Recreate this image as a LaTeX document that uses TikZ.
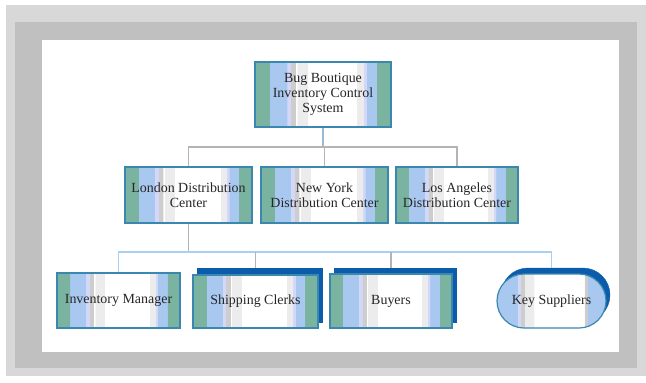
\documentclass[tikz,border=0pt]{standalone}
\usepackage{fontspec}
\setmainfont{Liberation Serif}
\usetikzlibrary{shapes.misc}

\definecolor{bandlight}{RGB}{216,216,216}
\definecolor{banddark}{RGB}{192,192,192}
\definecolor{stripeteal}{RGB}{122,180,160}
\definecolor{stripeblue}{RGB}{168,200,240}
\definecolor{stripelav}{RGB}{212,216,248}
\definecolor{stripegray}{RGB}{205,205,205}
\definecolor{stripepale}{RGB}{236,236,236}
\definecolor{boxline}{RGB}{58,136,176}
\definecolor{backblue}{RGB}{12,92,172}
\definecolor{linkgray}{RGB}{180,180,180}
\definecolor{linkblue}{RGB}{168,208,240}

\pgfdeclarehorizontalshading{boxstripes}{100bp}{
  color(0bp)=(stripeteal); color(30.2bp)=(stripeteal);
  color(30.3bp)=(stripeblue); color(36.7bp)=(stripeblue);
  color(36.8bp)=(stripelav); color(38.1bp)=(stripelav);
  color(38.2bp)=(stripegray); color(39.9bp)=(stripegray);
  color(40bp)=(white); color(40.4bp)=(white);
  color(40.5bp)=(stripepale); color(44.4bp)=(stripepale);
  color(44.5bp)=(white); color(62.4bp)=(white);
  color(62.5bp)=(stripepale); color(64.9bp)=(stripepale);
  color(65bp)=(stripelav); color(65.9bp)=(stripelav);
  color(66bp)=(stripeblue); color(69.7bp)=(stripeblue);
  color(69.8bp)=(stripeteal); color(100bp)=(stripeteal)}
\pgfdeclarehorizontalshading{pillstripes}{100bp}{
  color(0bp)=(stripeblue); color(34.4bp)=(stripeblue);
  color(34.5bp)=(stripelav); color(35.9bp)=(stripelav);
  color(36bp)=(stripegray); color(37.4bp)=(stripegray);
  color(37.5bp)=(stripepale); color(41.9bp)=(stripepale);
  color(42bp)=(white); color(64.9bp)=(white);
  color(65bp)=(stripegray); color(66.4bp)=(stripegray);
  color(66.5bp)=(stripeblue); color(100bp)=(stripeblue)}

\begin{document}
\begin{tikzpicture}[
    x=1bp, y=-1bp,
    every node/.style={font=\fontsize{14}{15}\selectfont, text=black!85},
    unit/.style={rectangle, draw=boxline, line width=1.2bp, shade, shading=boxstripes, align=center, inner sep=0pt, minimum height=56bp},
    backing/.style={rectangle, fill=backblue, draw=backblue, inner sep=0pt, minimum height=54bp},
    link/.style={draw=linkgray, line width=1.5bp}
  ]
  \useasboundingbox (0,0) rectangle (646,382);
  % frame
  \fill[bandlight] (6,5) rectangle (646,376);
  \fill[banddark] (15,22) rectangle (637,368);
  \fill[white] (42,40) rectangle (619,352);

  \node[unit, minimum width=136bp, minimum height=65bp] (bbics) at (323,94.5) {Bug Boutique\\Inventory Control\\System};

  \node[unit, minimum width=127bp] (london) at (188.5,195) {London Distribution\\Center};
  \node[unit, minimum width=127bp] (newyork) at (324.5,195) {New York\\Distribution Center};
  \node[unit, minimum width=122bp] (losangeles) at (457,195) {Los Angeles\\Distribution Center};

  \node[unit, minimum width=123bp, minimum height=55bp] (invmgr) at (118.5,300.5) {Inventory Manager};
  \node[backing, minimum width=125bp] (clerksback) at (259.5,295) {};
  \node[unit, minimum width=125bp, minimum height=53bp] (clerks) at (255.5,301.5) {Shipping Clerks};
  \node[backing, minimum width=122bp] (buyersback) at (395,295) {};
  \node[unit, minimum width=122bp, minimum height=54bp] (buyers) at (391,301) {Buyers};
  \node[backing, rounded rectangle, minimum width=109bp] (suppliersback) at (555.5,295) {};
  \node[unit, rounded rectangle, shading=pillstripes, minimum width=109bp, minimum height=54bp] (suppliers) at (551.5,301) {Key Suppliers};

  % connectors
  \coordinate (upperbus) at (323,147);
  \coordinate (lowerbus) at (187,252);
  \draw[link, draw=linkblue!70!gray] (bbics.south) -- (bbics.south |- upperbus);
  \draw[link] (london.north) |- (losangeles.north |- upperbus) -- (losangeles.north);
  \draw[link] (newyork.north) -- (newyork.north |- upperbus);
  \draw[link] (london.south) -- (london.south |- lowerbus);
  \draw[link, draw=linkblue] (invmgr.north) |- (suppliers.north |- lowerbus) -- (suppliers.north |- suppliersback.north);
  \draw[link] (clerks.north |- lowerbus) -- (clerks.north |- clerksback.north);
  \draw[link] (buyers.north |- lowerbus) -- (buyers.north |- buyersback.north);
\end{tikzpicture}
\end{document}
